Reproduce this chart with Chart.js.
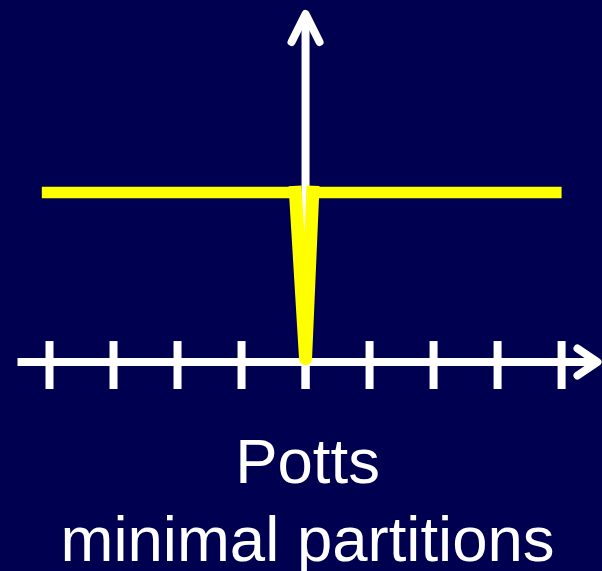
<!DOCTYPE html>
<html>
<head>
<meta charset="utf-8">
<title>Potts – minimal partitions</title>
<style>
  html, body { margin: 0; padding: 0; background: #000050; }
  #wrap { width: 602px; height: 571px; }
  canvas { display: block; }
</style>
<script src="https://cdn.jsdelivr.net/npm/chart.js@4/dist/chart.umd.min.js"></script>
</head>
<body>
<div id="wrap"><canvas id="chart" width="602" height="571"></canvas></div>
<script>
// Potts penalty: a flat plateau at 1, broken at the origin by a narrow well down to 0
const tickValues = [-4, -3, -2, -1, 0, 1, 2, 3, 4];
const plateauX = [-4.12, -0.086, null, 0.117, 4.0];
const plateauY = [1, 1, null, 1, 1];
const wellX = [-0.164, 0, 0.117];
const wellY = [1.04, 0.02, 1.04];
const captionLines = ['Potts', 'minimal partitions'];
const xRange = [-4.5, 4.6];
const yRange = [-0.159, 2.077];

const BG = '#000050';
const AXIS = '#ffffff';
const CURVE = '#ffff00';

const toPoints = (xs, ys) => xs.map((x, i) => (x === null ? { x: NaN, y: NaN } : { x, y: ys[i] }));

// Paints the slide-coloured background
const backdrop = {
  id: 'backdrop',
  beforeDraw(chart) {
    const { ctx, width, height } = chart;
    ctx.save();
    ctx.fillStyle = BG;
    ctx.fillRect(0, 0, width, height);
    ctx.restore();
  }
};

// Cross-shaped axes through the origin with arrow heads and tick marks
const originAxes = {
  id: 'originAxes',
  beforeDatasetsDraw(chart) {
    const { ctx, scales: { x, y } } = chart;
    const x0 = x.getPixelForValue(0);
    const y0 = y.getPixelForValue(0);
    const left = x.getPixelForValue(xRange[0]);
    const right = x.getPixelForValue(xRange[1]);
    const top = y.getPixelForValue(yRange[1]);
    const bottom = y.getPixelForValue(yRange[0]);

    ctx.save();
    ctx.strokeStyle = AXIS;
    ctx.lineWidth = 8;

    // horizontal axis
    const hTip = right - 2.5;
    ctx.lineCap = 'butt';
    ctx.beginPath();
    ctx.moveTo(left, y0);
    ctx.lineTo(hTip - 2, y0);
    ctx.stroke();

    // tick marks
    tickValues.forEach(v => {
      const px = x.getPixelForValue(v);
      ctx.beginPath();
      ctx.moveTo(px, y0 - 21);
      ctx.lineTo(px, bottom);
      ctx.stroke();
    });

    // vertical axis
    const vTip = top + 4;
    ctx.beginPath();
    ctx.moveTo(x0, bottom);
    ctx.lineTo(x0, vTip + 2);
    ctx.stroke();

    // arrow heads
    ctx.lineCap = 'round';
    ctx.lineJoin = 'round';
    ctx.beginPath();
    ctx.moveTo(hTip - 20, y0 - 13.5);
    ctx.lineTo(hTip, y0);
    ctx.lineTo(hTip - 20, y0 + 13.5);
    ctx.stroke();

    ctx.beginPath();
    ctx.moveTo(x0 - 14, vTip + 28);
    ctx.lineTo(x0, vTip);
    ctx.lineTo(x0 + 14, vTip + 28);
    ctx.stroke();
    ctx.restore();
  }
};

// Two-line caption under the axes
const caption = {
  id: 'caption',
  afterDraw(chart) {
    const { ctx, scales: { x } } = chart;
    const cx = x.getPixelForValue(0) + 2;
    ctx.save();
    ctx.fillStyle = '#ffffff';
    ctx.font = '63.5px "Liberation Sans", Arial, sans-serif';
    ctx.textAlign = 'center';
    ctx.textBaseline = 'alphabetic';
    ctx.fillText(captionLines[0], cx, 482.7);
    ctx.fillText(captionLines[1], cx, 560.7);
    ctx.restore();
  }
};

const lineStyle = {
  showLine: true,
  borderColor: CURVE,
  backgroundColor: CURVE,
  borderCapStyle: 'butt',
  pointRadius: 0,
  pointHoverRadius: 0,
  tension: 0,
  spanGaps: false
};

new Chart(document.getElementById('chart'), {
  type: 'scatter',
  data: {
    datasets: [
      Object.assign({ data: toPoints(plateauX, plateauY), borderWidth: 11.5, borderJoinStyle: 'miter' }, lineStyle),
      Object.assign({ data: toPoints(wellX, wellY), borderWidth: 13, borderJoinStyle: 'round' }, lineStyle)
    ]
  },
  options: {
    responsive: false,
    animation: false,
    devicePixelRatio: 1,
    layout: { padding: { left: 17.5, right: 2, top: 10, bottom: 182 } },
    scales: {
      x: { type: 'linear', min: xRange[0], max: xRange[1], display: false },
      y: { type: 'linear', min: yRange[0], max: yRange[1], display: false }
    },
    plugins: {
      legend: { display: false },
      tooltip: { enabled: false },
      title: { display: false }
    },
    events: []
  },
  plugins: [backdrop, originAxes, caption]
});
</script>
</body>
</html>
